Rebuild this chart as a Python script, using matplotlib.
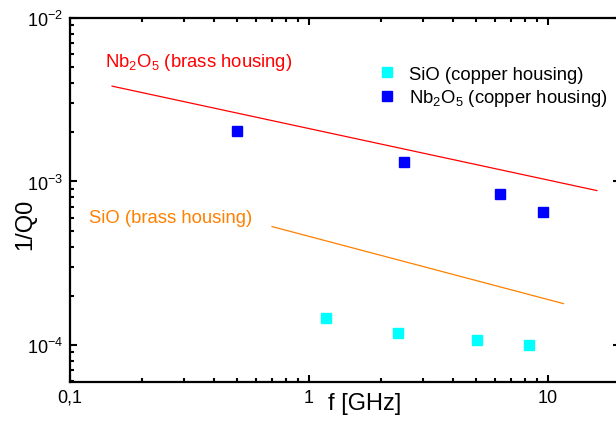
import numpy as np
import matplotlib
matplotlib.use("Agg")
import matplotlib.pyplot as plt
import matplotlib.ticker as ticker

plt.rcParams['font.family'] = ['Liberation Sans', 'DejaVu Sans']
plt.rcParams['mathtext.fontset'] = 'custom'
plt.rcParams['mathtext.rm'] = 'Liberation Sans'
plt.rcParams['mathtext.it'] = 'Liberation Sans'
plt.rcParams['mathtext.default'] = 'regular'

# copper housing measurements
sio_f = [1.18, 2.36, 5.05, 8.3]
sio_q = [1.47e-4, 1.19e-4, 1.08e-4, 1.0e-4]
nb_f = [0.5, 2.5, 6.3, 9.5]
nb_q = [2.03e-3, 1.31e-3, 8.4e-4, 6.5e-4]

# brass housing trend lines (end points)
nb_brass_f = [0.15, 16.0]
nb_brass_q = [3.83e-3, 8.8e-4]
sio_brass_f = [0.70, 11.6]
sio_brass_q = [5.3e-4, 1.79e-4]

x_ticks = [0.1, 1, 10]
x_labels = ['0,1', '1', '10']
y_ticks = [1e-4, 1e-3, 1e-2]
y_labels = [r'$10^{-4}$', r'$10^{-3}$', r'$10^{-2}$']

fig = plt.figure(figsize=(6.16, 4.27), dpi=100)
ax = fig.add_axes([0.1136, 0.1037, 0.893, 0.8518])

ax.plot(nb_brass_f, nb_brass_q, color='#ff0000', lw=0.9)
ax.plot(sio_brass_f, sio_brass_q, color='#ff8000', lw=0.9)
ax.plot(sio_f, sio_q, 's', color='#00ffff', ms=7.2, mec='#00ffff', ls='none',
        label='SiO (copper housing)')
ax.plot(nb_f, nb_q, 's', color='#0000ff', ms=7.2, mec='#0000ff', ls='none',
        label=r'Nb$_2$O$_5$ (copper housing)')

ax.text(0.14, 5.45e-3, r'Nb$_2$O$_5$ (brass housing)', color='#ff0000',
        fontsize=13.3, va='center', ha='left')
ax.text(0.12, 6.0e-4, 'SiO (brass housing)', color='#ff8000',
        fontsize=13.3, va='center', ha='left')

ax.set_xscale('log')
ax.set_yscale('log')
ax.set_xlim(0.1, 20)
ax.set_ylim(5.96e-5, 1e-2)

ax.xaxis.set_major_locator(ticker.FixedLocator(x_ticks))
ax.xaxis.set_major_formatter(ticker.FixedFormatter(x_labels))
ax.xaxis.set_minor_locator(ticker.LogLocator(base=10, subs=np.arange(2, 10)))
ax.xaxis.set_minor_formatter(ticker.NullFormatter())
ax.yaxis.set_major_locator(ticker.FixedLocator(y_ticks))
ax.yaxis.set_major_formatter(ticker.FixedFormatter(y_labels))
ax.yaxis.set_minor_locator(ticker.LogLocator(base=10, subs=np.arange(2, 10)))
ax.yaxis.set_minor_formatter(ticker.NullFormatter())

ax.tick_params(which='both', direction='in', top=True, right=True, width=1.5)
ax.tick_params(which='major', length=5, labelsize=13)
ax.tick_params(which='minor', length=3)
ax.tick_params(axis='x', pad=5)
ax.tick_params(axis='y', pad=5)
for s in ax.spines.values():
    s.set_linewidth(1.6)

ax.set_xlabel('f [GHz]', fontsize=17)
ax.set_ylabel('1/Q0', fontsize=17)
ax.xaxis.set_label_coords(0.535, -0.028)
ax.yaxis.set_label_coords(-0.062, 0.434)

ax.legend(loc='upper left', bbox_to_anchor=(0.542, 0.889), frameon=False,
          fontsize=13.3, handletextpad=0.6, labelspacing=0.25, handlelength=1.2,
          borderaxespad=0)

fig.savefig('out.png', dpi=100)
